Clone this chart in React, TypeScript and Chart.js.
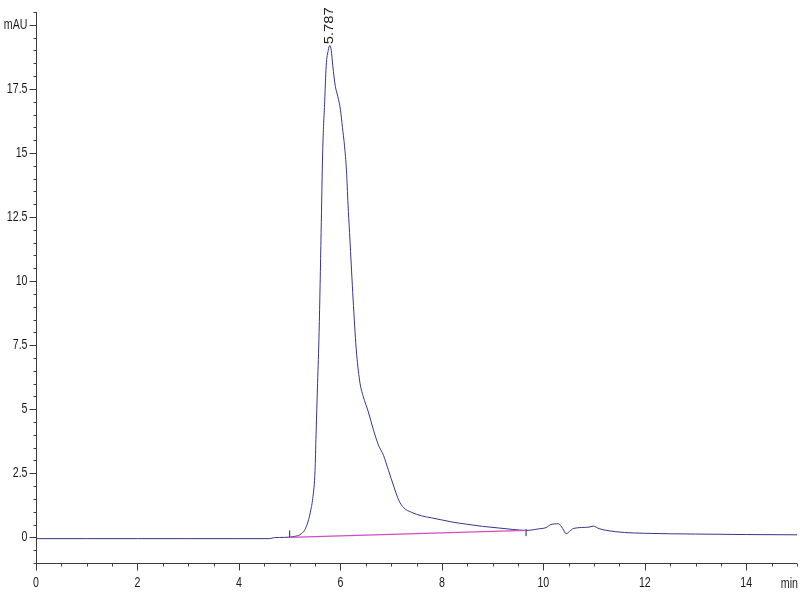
import React, { useEffect, useRef } from "react";
import { Chart, registerables } from "chart.js";

Chart.register(...registerables);

// Retention time (min)
const times = [
  0, 1, 2, 3, 4, 4.6, 4.7, 4.9, 5.0, 5.1, 5.2, 5.3, 5.36, 5.42, 5.46, 5.5, 5.52, 5.55, 5.58,
  5.62, 5.65, 5.69, 5.72, 5.76, 5.79, 5.82, 5.85, 5.9, 5.95, 6.0, 6.04, 6.08, 6.12, 6.15,
  6.18, 6.22, 6.25, 6.31, 6.38, 6.45, 6.55, 6.65, 6.75, 6.85, 6.95, 7.05, 7.15, 7.25, 7.4,
  7.6, 7.8, 8.0, 8.2, 8.5, 8.8, 9.1, 9.4, 9.66, 9.9, 10.05, 10.15, 10.3, 10.38, 10.45, 10.52,
  10.6, 10.9, 10.98, 11.1, 11.25, 11.6, 12.0, 12.5, 13.0, 14.0, 15.0,
];
// Absorbance (mAU)
const signal = [
  -0.05, -0.05, -0.05, -0.05, -0.05, -0.05, -0.01, 0.0, 0.01, 0.04, 0.1, 0.3, 0.6, 1.1, 1.6,
  2.6, 4.0, 6.0, 8.0, 11.9, 15.0, 17.0, 18.4, 19.0, 19.2, 19.0, 18.4, 17.6, 17.2, 16.7, 16.0,
  15.3, 14.3, 13.0, 11.9, 10.4, 9.3, 7.4, 6.1, 5.5, 4.9, 4.2, 3.6, 3.2, 2.6, 2.0, 1.45, 1.15,
  0.98, 0.84, 0.76, 0.68, 0.6, 0.51, 0.43, 0.37, 0.31, 0.27, 0.33, 0.38, 0.5, 0.53, 0.35,
  0.14, 0.24, 0.35, 0.4, 0.44, 0.34, 0.27, 0.19, 0.16, 0.14, 0.13, 0.11, 0.1,
];

// Integration baseline
const baselineTimes = [5.0, 9.66];
const baselineValues = [0.0, 0.27];

// Peak start / end markers
const markerTimes = [5.0, 9.66];
const markerLow = [0.0, 0.05];
const markerHigh = [0.27, 0.32];

// Peak annotation
const peakTime = 5.787;
const peakValue = 19.2;
const peakLabel = "5.787";

// Axes
const xMin = 0;
const xMax = 15;
const yMin = -1;
const yMax = 20.5;
const xMajorTicks = [0, 2, 4, 6, 8, 10, 12, 14];
const xMinorStep = 0.5;
const yMajorTicks = [0, 2.5, 5, 7.5, 10, 12.5, 15, 17.5];
const yMajorLabels = ["0", "2.5", "5", "7.5", "10", "12.5", "15", "17.5"];
const yMinorStep = 0.5;
const yUnitTick = 20;
const yUnitLabel = "mAU";
const xUnitLabel = "min";

const LABEL_FONT = '14px "Liberation Sans", Arial, sans-serif';
const NARROW = 0.76;
const AXIS_COLOR = "#3a3a3a";
const TEXT_COLOR = "#1a1a1a";

function narrowText(
  ctx: CanvasRenderingContext2D,
  text: string,
  x: number,
  y: number,
  align: "left" | "right" | "center",
  baseline: CanvasTextBaseline
) {
  ctx.save();
  ctx.translate(x, y);
  ctx.scale(NARROW, 1);
  ctx.textAlign = align;
  ctx.textBaseline = baseline;
  ctx.fillText(text, 0, 0);
  ctx.restore();
}

const axesPlugin = {
  id: "hplcAxes",
  afterDraw(chart: any) {
    const ctx = chart.ctx;
    const xs = chart.scales.x;
    const ys = chart.scales.y;
    const area = chart.chartArea;
    const L = Math.round(area.left) + 0.5;
    const B = Math.round(area.bottom) + 0.5;
    ctx.save();
    ctx.strokeStyle = AXIS_COLOR;
    ctx.lineWidth = 1;
    ctx.beginPath();
    ctx.moveTo(L, Math.round(area.top));
    ctx.lineTo(L, B);
    ctx.lineTo(Math.round(area.right), B);
    ctx.stroke();

    // x ticks
    ctx.beginPath();
    for (let v = xMin; v <= xMax + 1e-9; v += xMinorStep) {
      const px = Math.round(xs.getPixelForValue(v)) + 0.5;
      const major = xMajorTicks.some((m) => Math.abs(m - v) < 1e-6);
      ctx.moveTo(px, B);
      ctx.lineTo(px, B + (major ? 7 : 3));
    }
    // y ticks
    for (let v = yMin; v <= yMax + 1e-9; v += yMinorStep) {
      const py = Math.round(ys.getPixelForValue(v)) + 0.5;
      const major =
        yMajorTicks.some((m) => Math.abs(m - v) < 1e-6) || Math.abs(v - yUnitTick) < 1e-6;
      ctx.moveTo(L, py);
      ctx.lineTo(L - (major ? 7 : 3), py);
    }
    ctx.stroke();

    ctx.fillStyle = TEXT_COLOR;
    ctx.font = LABEL_FONT;
    xMajorTicks.forEach((v) => {
      narrowText(ctx, String(v), xs.getPixelForValue(v), B + 13, "center", "top");
    });
    narrowText(ctx, xUnitLabel, area.right + 1, B + 14, "right", "top");

    yMajorTicks.forEach((v, i) => {
      narrowText(ctx, yMajorLabels[i], L - 9, ys.getPixelForValue(v), "right", "middle");
    });
    narrowText(ctx, yUnitLabel, L - 9, ys.getPixelForValue(yUnitTick), "right", "middle");

    // peak label (rotated)
    const px = xs.getPixelForValue(peakTime);
    const py = ys.getPixelForValue(peakValue);
    ctx.translate(px, py - 1);
    ctx.rotate(-Math.PI / 2);
    ctx.font = '13px "Liberation Sans", Arial, sans-serif';
    const w = ctx.measureText(peakLabel).width;
    const sx = 37 / w;
    ctx.scale(sx, 1);
    ctx.textAlign = "left";
    ctx.textBaseline = "middle";
    ctx.fillStyle = TEXT_COLOR;
    ctx.fillText(peakLabel, 0, 0);
    ctx.restore();
  },
};

export default function App() {
  const canvasRef = useRef<HTMLCanvasElement | null>(null);

  useEffect(() => {
    if (!canvasRef.current) return;
    const traceData = times.map((t, i) => ({ x: t, y: signal[i] }));
    const baseData = baselineTimes.map((t, i) => ({ x: t, y: baselineValues[i] }));
    const markerSets = markerTimes.map((t, i) => ({
      data: [
        { x: t, y: markerLow[i] },
        { x: t, y: markerHigh[i] },
      ],
      borderColor: "#222244",
      borderWidth: 1,
      pointRadius: 0,
      showLine: true,
      fill: false,
      tension: 0,
    }));

    const chart = new Chart(canvasRef.current, {
      type: "scatter",
      data: {
        datasets: [
          {
            data: baseData,
            borderColor: "#d24cc4",
            borderWidth: 1.2,
            pointRadius: 0,
            showLine: true,
            fill: false,
            tension: 0,
          },
          {
            data: traceData,
            borderColor: "#36368c",
            borderWidth: 1,
            pointRadius: 0,
            showLine: true,
            fill: false,
            tension: 0.25,
            cubicInterpolationMode: "monotone",
          },
          ...markerSets,
        ] as any,
      },
      options: {
        animation: false,
        responsive: true,
        maintainAspectRatio: false,
        layout: { padding: { left: 36, top: 12, right: 3, bottom: 37 } },
        plugins: {
          legend: { display: false },
          tooltip: { enabled: false },
        },
        scales: {
          x: { type: "linear", min: xMin, max: xMax, display: false },
          y: { type: "linear", min: yMin, max: yMax, display: false },
        },
      },
      plugins: [axesPlugin],
    });
    return () => chart.destroy();
  }, []);

  return (
    <div
      style={{
        position: "fixed",
        left: 0,
        top: 0,
        width: 800,
        height: 600,
        background: "#ffffff",
      }}
    >
      <canvas ref={canvasRef} />
    </div>
  );
}
